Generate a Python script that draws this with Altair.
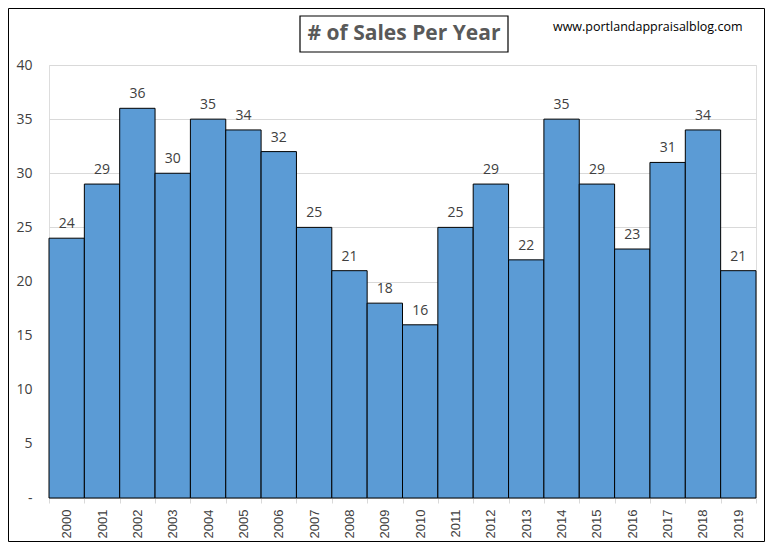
import altair as alt
import pandas as pd

years = [str(y) for y in range(2000, 2020)]
sales = [24, 29, 36, 30, 35, 34, 32, 25, 21, 18, 16, 25, 29, 22, 35, 29, 23, 31, 34, 21]
title_text = "# of Sales Per Year"
site_text = "www.portlandappraisalblog.com"

df = pd.DataFrame({"year": years, "sales": sales})
one = pd.DataFrame({"k": [0]})

W, H = 707, 433
PL, PT, PR, PB = 41, 57, 9, 44
FONT = "Open Sans"

x = alt.X("year:N", sort=years, title=None,
          scale=alt.Scale(paddingInner=0, paddingOuter=0),
          axis=alt.Axis(labelAngle=-90, labelFontSize=13, labelColor="#404040",
                        labelFont="Liberation Sans", domainColor="#D9D9D9",
                        tickColor="#D9D9D9", tickSize=5, tickBand="extent",
                        labelPadding=6, grid=False))
y = alt.Y("sales:Q", title=None,
          scale=alt.Scale(domain=[0, 40]),
          axis=alt.Axis(values=list(range(0, 41, 5)), labelFontSize=14,
                        labelColor="#404040", labelFont=FONT,
                        labelExpr="datum.value == 0 ? '-' : datum.label",
                        ticks=False, domain=False, gridColor="#D9D9D9",
                        labelPadding=17))

bars = alt.Chart(df).mark_bar(color="#5B9BD5", stroke="black", strokeWidth=1).encode(x=x, y=y)

labels = alt.Chart(df).mark_text(baseline="bottom", dy=-7, fontSize=14,
                                 color="#404040", font=FONT).encode(
    x=alt.X("year:N", sort=years), y="sales:Q", text="sales:Q")

title_box = alt.Chart(one).mark_rect(fill="white", stroke="black", strokeWidth=1.2).encode(
    x=alt.value(251), x2=alt.value(459), y=alt.value(-49), y2=alt.value(-13))

title = alt.Chart(one).mark_text(text=title_text, fontSize=21, fontWeight="bold",
                                 color="#595959", font=FONT, align="center",
                                 baseline="middle").encode(
    x=alt.value(355), y=alt.value(-31))

site = alt.Chart(one).mark_text(text=site_text, fontSize=12.5, color="black",
                                font=FONT, align="left", baseline="middle").encode(
    x=alt.value(504), y=alt.value(-38))

border = alt.Chart(one).mark_rect(fill=None, fillOpacity=0, stroke="black", strokeWidth=1).encode(
    x=alt.value(-PL + 0.5), x2=alt.value(W + PR - 0.5),
    y=alt.value(-PT + 0.5), y2=alt.value(H + PB - 0.5))

chart = alt.layer(bars, labels, title_box, title, site, border).properties(
    width=W, height=H,
    padding={"left": PL, "top": PT, "right": PR, "bottom": PB},
    autosize=alt.AutoSizeParams(type="none"),
).configure_view(stroke=None).configure(background="white")

chart.save("out.html", embed_options={"renderer": "svg", "actions": False})
